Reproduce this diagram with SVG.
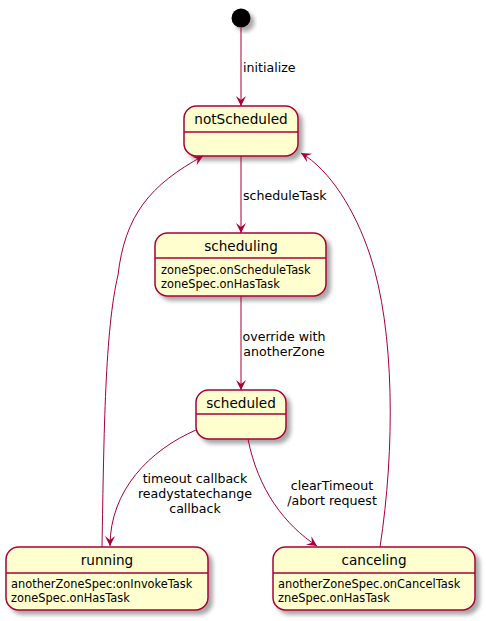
<svg xmlns="http://www.w3.org/2000/svg" width="486" height="621" viewBox="0 0 486 621">
<defs>
<filter id="sh" x="-20%" y="-20%" width="150%" height="150%">
<feDropShadow dx="4" dy="4" stdDeviation="2" flood-color="#000" flood-opacity="0.35"/>
</filter>
<marker id="ah" viewBox="-11 -6 13 12" markerWidth="13" markerHeight="12" refX="0" refY="0" orient="auto" markerUnits="userSpaceOnUse">
<path d="M0,0 L-10,-5 L-6,0 L-10,5 Z" fill="#A80036"/>
</marker>
</defs>
<style>
.box{fill:#FEFECE;stroke:#A80036;stroke-width:1.5;filter:url(#sh)}
.div{stroke:#A80036;stroke-width:1.5}
.t{font-family:"DejaVu Sans",sans-serif;font-size:13.6px;fill:#000;text-anchor:middle}
.b{font-family:"DejaVu Sans",sans-serif;font-size:11.4px;fill:#000}
.l{font-family:"DejaVu Sans",sans-serif;font-size:12.6px;fill:#000}
.lc{font-family:"DejaVu Sans",sans-serif;font-size:12.6px;fill:#000;text-anchor:middle}
.e{fill:none;stroke:#A80036;stroke-width:1;marker-end:url(#ah)}
</style>
<g id="start">
<circle cx="241" cy="18" r="9.5" fill="#000" filter="url(#sh)"/>
</g>
<g id="notScheduled">
<rect class="box" x="184" y="106" width="114" height="50" rx="12.5"/>
<line class="div" x1="184" y1="132" x2="298" y2="132"/>
<text class="t" x="241" y="124">notScheduled</text>
</g>
<g id="scheduling">
<rect class="box" x="155" y="233" width="171" height="63" rx="12.5"/>
<line class="div" x1="155" y1="258" x2="326" y2="258"/>
<text class="t" x="241" y="251">scheduling</text>
<text class="b" x="161" y="274">zoneSpec.onScheduleTask</text>
<text class="b" x="161" y="288">zoneSpec.onHasTask</text>
</g>
<g id="scheduled">
<rect class="box" x="196" y="390" width="90" height="49" rx="12.5"/>
<line class="div" x1="196" y1="414" x2="286" y2="414"/>
<text class="t" x="241" y="408">scheduled</text>
</g>
<g id="running">
<rect class="box" x="6" y="547" width="202" height="63" rx="12.5"/>
<line class="div" x1="6" y1="573" x2="208" y2="573"/>
<text class="t" x="107" y="565">running</text>
<text class="b" x="11" y="588">anotherZoneSpec:onInvokeTask</text>
<text class="b" x="11" y="602">zoneSpec.onHasTask</text>
</g>
<g id="canceling">
<rect class="box" x="273" y="547" width="202" height="63" rx="12.5"/>
<line class="div" x1="273" y1="573" x2="475" y2="573"/>
<text class="t" x="374" y="565">canceling</text>
<text class="b" x="278" y="588">anotherZoneSpec.onCancelTask</text>
<text class="b" x="278" y="602">zneSpec.onHasTask</text>
</g>
<g id="connectors">
<path class="e" d="M241,28 L241,106"/>
<text class="l" x="243" y="72">initialize</text>
<path class="e" d="M241,156 L241,233"/>
<text class="l" x="243" y="200">scheduleTask</text>
<path class="e" d="M241,296 L241,390"/>
<text class="lc" x="284" y="341">override with</text>
<text class="lc" x="284" y="356">anotherZone</text>
<path class="e" d="M196,430 C150,450 110,490 110,546"/>
<text class="lc" x="195" y="483">timeout callback</text>
<text class="lc" x="195" y="498">readystatechange</text>
<text class="lc" x="195" y="513">callback</text>
<path class="e" d="M248,439 C258,490 285,525 317,546"/>
<text class="lc" x="332" y="490">clearTimeout</text>
<text class="lc" x="332" y="505">/abort request</text>
<path class="e" d="M102,547 C104,430 105,330 118,275 C125,215 150,185 203,156"/>
<path class="e" d="M380,547 C395,450 395,330 370,255 C355,210 330,170 301,153"/>
</g>
</svg>
